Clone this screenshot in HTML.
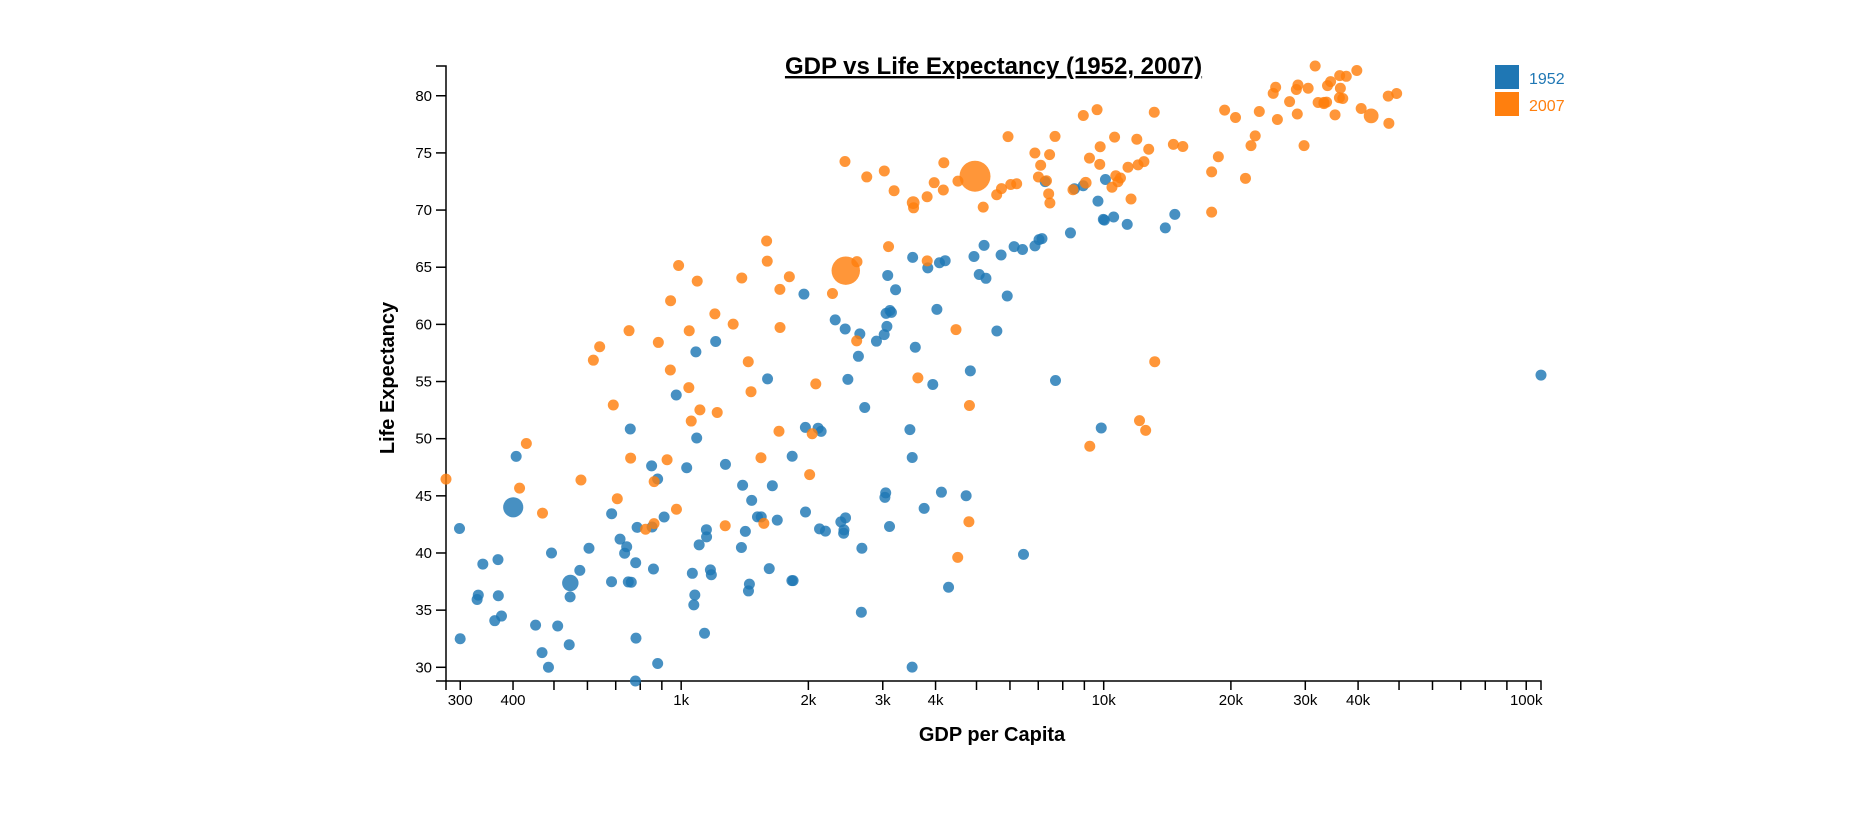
<!DOCTYPE html>
<html><head><meta charset="utf-8"><title>GDP vs Life Expectancy</title>
<style>
html,body{margin:0;padding:0;background:#fff;}
svg{display:block;font-family:"Liberation Sans",Arial,sans-serif;}
</style></head>
<body>
<svg id="chart" width="1852" height="836" viewBox="0 0 1852 836" xmlns="http://www.w3.org/2000/svg">
<text x="993.5" y="74" text-anchor="middle" font-size="24" font-weight="bold" text-decoration="underline">GDP vs Life Expectancy (1952, 2007)</text>
<g id="xaxis"></g>
<g id="yaxis"></g>
<g id="dots"></g>
<text x="992" y="741" text-anchor="middle" font-size="20" font-weight="bold">GDP per Capita</text>
<text transform="translate(394,378) rotate(-90)" text-anchor="middle" font-size="20" font-weight="bold">Life Expectancy</text>
<g>
<rect x="1495" y="65" width="24" height="24" fill="#1f77b4"/>
<text x="1529" y="84" font-size="16" fill="#1f77b4">1952</text>
<rect x="1495" y="92" width="24" height="24" fill="#ff7f0e"/>
<text x="1529" y="111" font-size="16" fill="#ff7f0e">2007</text>
</g>
</svg>
<script>
const countries=["Afghanistan","Albania","Algeria","Angola","Argentina","Australia","Austria","Bahrain","Bangladesh","Belgium","Benin","Bolivia","Bosnia","Botswana","Brazil","Bulgaria","Burkina Faso","Burundi","Cambodia","Cameroon","Canada","CAR","Chad","Chile","China","Colombia","Comoros","Congo Dem","Congo Rep","Costa Rica","Cote d'Ivoire","Croatia","Cuba","Czech Rep","Denmark","Djibouti","Dominican Rep","Ecuador","Egypt","El Salvador","Eq Guinea","Eritrea","Ethiopia","Finland","France","Gabon","Gambia","Germany","Ghana","Greece","Guatemala","Guinea","Guinea-Bissau","Haiti","Honduras","Hong Kong","Hungary","Iceland","India","Indonesia","Iran","Iraq","Ireland","Israel","Italy","Jamaica","Japan","Jordan","Kenya","Korea Dem","Korea Rep","Kuwait","Lebanon","Lesotho","Liberia","Libya","Madagascar","Malawi","Malaysia","Mali","Mauritania","Mauritius","Mexico","Mongolia","Montenegro","Morocco","Mozambique","Myanmar","Namibia","Nepal","Netherlands","New Zealand","Nicaragua","Niger","Nigeria","Norway","Oman","Pakistan","Panama","Paraguay","Peru","Philippines","Poland","Portugal","Puerto Rico","Reunion","Romania","Rwanda","Sao Tome","Saudi Arabia","Senegal","Serbia","Sierra Leone","Singapore","Slovakia","Slovenia","Somalia","South Africa","Spain","Sri Lanka","Sudan","Swaziland","Sweden","Switzerland","Syria","Taiwan","Tanzania","Thailand","Togo","Trinidad","Tunisia","Turkey","Uganda","United Kingdom","United States","Uruguay","Venezuela","Vietnam","West Bank","Yemen","Zambia","Zimbabwe"];
const gdp1952=[779.4,1601.1,2449.0,3520.6,5911.3,10039.6,6137.1,9867.1,684.2,8343.1,1062.8,2677.3,973.5,851.2,2108.9,2444.3,543.3,339.3,368.5,1172.7,11367.2,1071.3,1178.7,3940.0,400.4,2144.1,1103.0,780.5,2125.6,2627.0,1388.6,3119.2,5586.5,6876.1,9692.4,2669.5,1397.7,3522.1,1418.8,3048.3,375.6,328.9,362.1,6424.5,7029.8,4293.5,485.2,7144.1,911.3,3530.7,2428.2,510.2,299.9,1840.4,2194.9,3054.4,5263.7,7267.7,546.6,749.7,3035.3,4129.8,5210.3,4086.5,4931.4,2898.5,3217.0,1546.9,853.5,1088.3,1030.6,108382.4,4834.8,298.8,575.6,2387.5,1443.0,369.2,1831.1,452.3,743.1,1968.0,3478.1,786.6,2647.6,1688.2,468.5,331.0,2423.8,545.9,8941.6,10556.6,3112.4,761.9,1077.3,10095.4,1828.2,684.6,2480.4,1952.3,3758.5,1272.9,4029.3,3068.3,3082.0,2718.9,3144.6,493.3,879.6,6459.6,1450.4,3581.5,879.8,2315.1,5074.7,4215.0,1135.7,4725.3,3834.0,1083.5,1616.0,1148.4,8527.8,14734.2,1643.5,1206.9,716.7,757.8,859.8,3023.3,1468.5,1969.1,734.8,9979.5,13990.5,5716.8,7689.8,605.1,1515.6,781.7,1147.4,406.9];
const life1952=[28.801,55.23,43.077,30.015,62.485,69.12,66.8,50.939,37.484,68,38.223,40.414,53.82,47.622,50.917,59.6,31.975,39.031,39.417,38.523,68.75,35.463,38.092,54.745,44,50.643,40.715,39.143,42.111,57.206,40.477,61.21,59.421,66.87,70.78,34.812,45.928,48.357,41.893,45.262,34.482,35.928,34.078,66.55,67.41,37.003,30,67.5,43.149,65.86,42.023,33.609,32.5,37.579,41.912,60.96,64.03,72.49,37.373,37.468,44.869,45.32,66.91,65.39,65.94,58.53,63.03,43.158,42.27,50.056,47.453,55.565,55.928,42.138,38.48,42.723,36.681,36.256,48.463,33.685,40.543,50.986,50.789,42.244,59.164,42.873,31.286,36.319,41.725,36.157,72.13,69.39,42.314,37.444,36.324,72.67,37.578,43.436,55.191,62.649,43.902,47.752,61.31,59.82,64.28,52.724,61.05,40,46.471,39.875,37.278,57.996,30.331,60.396,64.36,65.57,32.978,45.009,64.94,57.593,38.635,41.407,71.86,69.62,45.883,58.5,41.215,50.848,38.596,59.1,44.6,43.585,39.978,69.18,68.44,66.071,55.088,40.412,43.16,32.548,42.038,48.451];
const pop1952=[8.43,1.28,9.28,4.23,17.88,8.69,6.93,0.12,46.89,8.73,1.74,2.88,2.79,0.44,56.6,7.27,4.47,2.45,4.69,5.01,14.79,1.29,2.68,6.38,556.26,12.35,0.15,14.1,0.85,0.93,2.98,3.88,6.01,9.13,4.33,0.06,2.49,3.55,22.22,2.04,0.22,1.44,20.86,4.09,42.46,0.42,0.28,69.15,5.58,7.73,3.15,2.66,0.58,3.2,1.52,2.13,9.5,0.15,372,82.05,17.27,5.44,2.95,1.62,47.67,1.43,86.46,0.61,6.46,8.87,20.95,0.16,1.44,0.75,0.86,1.02,4.76,2.92,6.75,3.84,1.02,0.52,30.14,0.8,0.41,9.94,6.45,20.09,0.49,9.18,10.38,1.99,1.17,3.38,33.12,3.33,0.51,41.35,0.94,1.56,8.03,22.44,25.73,8.53,2.23,0.26,16.63,2.53,0.06,4.01,2.76,6.86,2.14,1.13,3.56,1.49,2.53,14.26,28.55,7.98,8.5,0.29,7.12,4.82,3.66,8.55,8.32,21.29,1.22,0.66,3.65,22.24,5.82,50.43,157.55,2.25,5.44,26.25,1.03,4.96,2.67,3.08];
const gdp2007=[974.6,5937.0,6223.4,4797.2,12779.4,34435.4,36126.5,29796.0,1391.3,33692.6,1441.3,3822.1,7446.3,12569.9,9065.8,10680.8,1217.0,430.1,1713.8,2042.1,36319.2,706.0,1704.1,13171.6,4959.1,7006.6,986.1,277.6,3632.6,9645.1,1544.8,14619.2,8948.1,22833.3,35278.4,2082.5,6025.4,6873.3,5581.2,5728.4,12154.1,641.4,690.8,33207.1,30470.0,13206.5,752.7,32170.4,1327.6,27538.4,5186.1,942.7,579.2,1201.6,3548.3,39725.0,18008.9,36180.8,2452.2,3540.7,11605.7,4471.1,40676.0,25523.3,28569.7,7320.9,31656.1,4519.5,1463.2,1593.1,23348.1,47307.0,10461.1,1569.3,414.5,12057.5,1044.8,759.3,12451.7,1042.6,1803.2,10957.0,11977.6,3095.8,9253.9,3820.2,823.7,944.0,4811.1,1091.4,36797.9,25185.0,2749.3,619.7,2014.0,49357.2,22316.2,2605.9,9809.2,4172.8,7408.9,3190.5,15389.9,20509.6,19328.7,7670.1,10808.5,863.1,1598.4,21654.8,1712.5,9786.5,862.5,47143.2,18678.3,25768.3,926.1,9269.7,28821.1,3970.1,2602.4,4513.5,33859.7,37506.4,4184.5,28718.3,1107.5,7458.4,883.0,18008.5,7092.9,8458.3,1056.4,33203.3,42951.7,10611.5,11415.8,2441.6,3025.3,2280.8,1271.2,469.7];
const life2007=[43.828,76.423,72.301,42.731,75.32,81.235,79.829,75.635,64.062,79.441,56.728,65.554,74.852,50.728,72.39,73.005,52.295,49.58,59.723,50.43,80.653,44.741,50.651,78.553,72.961,72.889,65.152,46.462,55.322,78.782,48.328,75.748,78.273,76.486,78.332,54.791,72.235,74.994,71.338,71.878,51.579,58.04,52.947,79.313,80.657,56.735,59.448,79.406,60.022,79.483,70.259,56.007,46.388,60.916,70.198,82.208,73.338,81.757,64.698,70.65,70.964,59.545,78.885,80.745,80.546,72.567,82.603,72.535,54.11,67.297,78.623,77.588,71.993,42.592,45.678,73.952,59.443,48.303,74.241,54.467,64.164,72.801,76.195,66.803,74.543,71.164,42.082,62.069,52.906,63.785,79.762,80.204,72.899,56.867,46.859,80.196,75.64,65.483,75.537,71.752,71.421,71.688,75.563,78.098,78.746,76.442,72.476,46.242,65.528,72.777,63.062,74.002,42.568,79.972,74.663,77.926,48.159,49.339,80.941,72.396,58.556,39.613,80.884,81.701,74.143,78.4,52.517,70.616,58.42,69.819,73.923,71.777,51.542,79.425,78.242,76.384,73.747,74.249,73.422,62.698,42.384,43.487];
const pop2007=[31.89,3.6,33.33,12.42,40.3,20.43,8.2,0.71,150.45,10.39,8.08,9.12,4.55,1.64,190.01,7.32,14.33,8.39,14.13,17.7,33.39,4.37,10.24,16.28,1318.68,44.23,0.71,64.61,3.8,4.13,18.01,4.49,11.42,10.23,5.47,0.5,9.32,13.76,80.26,6.94,0.55,4.91,76.51,5.24,61.08,1.45,1.69,82.4,22.87,10.71,12.57,9.95,1.47,8.5,7.48,6.98,9.96,0.3,1110.4,223.55,69.45,27.5,4.11,6.43,58.15,2.78,127.47,6.05,35.61,23.3,49.04,2.51,3.92,2.01,3.19,6.04,19.17,13.33,24.82,12.03,3.27,1.25,108.7,2.87,0.68,33.76,19.95,47.76,2.06,28.9,16.57,4.12,5.68,12.89,135.03,4.63,3.2,169.27,3.24,6.67,28.67,91.08,38.52,10.64,3.94,0.8,22.28,8.86,0.2,27.6,12.27,10.15,6.14,4.55,5.45,2.01,9.12,44,40.45,20.38,42.29,1.13,9.03,7.55,19.31,23.17,38.14,65.07,5.7,1.06,10.28,71.16,29.17,60.78,301.14,3.45,26.08,85.26,4.02,22.21,11.75,12.31];
const xTicks=[300,400,500,600,700,800,900,1000,2000,3000,4000,5000,6000,7000,8000,9000,10000,20000,30000,40000,50000,60000,70000,80000,90000,100000];
const xTickLabels=["300","400","","","","","","1k","2k","3k","4k","","","","","","10k","20k","30k","40k","","","","","","100k"];
const yTicks=[30,35,40,45,50,55,60,65,70,75,80];

const NS="http://www.w3.org/2000/svg";
const X0=446,X1=1541,Y0=681,Y1=66;
const allGdp=gdp1952.concat(gdp2007), allLife=life1952.concat(life2007), allPop=pop1952.concat(pop2007);
const xMin=Math.min(...allGdp), xMax=Math.max(...allGdp);
const yMin=Math.min(...allLife), yMax=Math.max(...allLife);
const pMax=Math.max(...allPop);
function xs(v){return X0+(Math.log(v)-Math.log(xMin))/(Math.log(xMax)-Math.log(xMin))*(X1-X0);}
function ys(v){return Y0-(v-yMin)/(yMax-yMin)*(Y0-Y1);}
function rs(p){return Math.max(5.5,15.5*Math.sqrt(p/pMax));}
function mk(tag,attrs,parent){const e=document.createElementNS(NS,tag);for(const k in attrs)e.setAttribute(k,attrs[k]);parent.appendChild(e);return e;}

const gx=document.getElementById('xaxis');
const xp=mk('path',{d:`M${X0},${Y0+9}V${Y0}H${X1}V${Y0+9}`,stroke:'#000',fill:'none','stroke-width':1.5},gx);


xTicks.forEach((t,i)=>{
  const x=xs(t);
  if(x<X0-0.5||x>X1+0.5)return;
  const l=mk('line',{x1:x,x2:x,y1:Y0,y2:Y0+9,stroke:'#000','stroke-width':1.5},gx);
  
  
  if(xTickLabels[i]){
    const tx=mk('text',{x:x,y:Y0+24,'text-anchor':'middle','font-size':15},gx);
    
    
    tx.textContent=xTickLabels[i];
  }
});
const gy=document.getElementById('yaxis');
const yp=mk('path',{d:`M${X0-10},${Y1}H${X0}V${Y0}H${X0-10}`,stroke:'#000',fill:'none','stroke-width':1.5},gy);


yTicks.forEach(t=>{
  const y=ys(t);
  const l=mk('line',{x1:X0-10,x2:X0,y1:y,y2:y,stroke:'#000','stroke-width':1.5},gy);
  
  
  const tx=mk('text',{x:X0-14,y:y+5,'text-anchor':'end','font-size':15},gy);
  
  
  tx.textContent=t;
});
const gd=document.getElementById('dots');
function drawSeries(g,l,p,color,yr){
  countries.forEach((c,i)=>{
    const ci=mk('circle',{cx:xs(g[i]),cy:ys(l[i]),r:rs(p[i]),fill:color,'fill-opacity':0.82},gd);
    
    
  });
}
drawSeries(gdp1952,life1952,pop1952,'#1f77b4','1952');
drawSeries(gdp2007,life2007,pop2007,'#ff7f0e','2007');
</script>
</body></html>
